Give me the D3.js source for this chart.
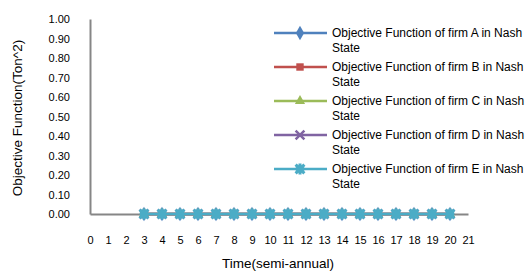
<!DOCTYPE html>
<html>
<head>
<meta charset="utf-8">
<script src="https://cdn.jsdelivr.net/npm/d3@7"></script>
<style>
  body { margin: 0; background: #fff; }
  text { font-family: "Liberation Sans", Arial, sans-serif; fill: #000; }
</style>
</head>
<body>
<svg id="chart"></svg>
<script>
let width = 530;
let height = 271;

// periods 3..20, all objective values are 0
const periods = [3, 4, 5, 6, 7, 8, 9, 10, 11, 12, 13, 14, 15, 16, 17, 18, 19, 20];
const firmA = [0, 0, 0, 0, 0, 0, 0, 0, 0, 0, 0, 0, 0, 0, 0, 0, 0, 0];
const firmB = [0, 0, 0, 0, 0, 0, 0, 0, 0, 0, 0, 0, 0, 0, 0, 0, 0, 0];
const firmC = [0, 0, 0, 0, 0, 0, 0, 0, 0, 0, 0, 0, 0, 0, 0, 0, 0, 0];
const firmD = [0, 0, 0, 0, 0, 0, 0, 0, 0, 0, 0, 0, 0, 0, 0, 0, 0, 0];
const firmE = [0, 0, 0, 0, 0, 0, 0, 0, 0, 0, 0, 0, 0, 0, 0, 0, 0, 0];
const seriesNames = ['Objective Function of firm A in Nash State',
                     'Objective Function of firm B in Nash State',
                     'Objective Function of firm C in Nash State',
                     'Objective Function of firm D in Nash State',
                     'Objective Function of firm E in Nash State'];
const xTicks = d3.range(0, 22);
const yTicks = [0, 0.1, 0.2, 0.3, 0.4, 0.5, 0.6, 0.7, 0.8, 0.9, 1.0];

const colors = ['#4F81BD', '#C0504D', '#9BBB59', '#8064A2', '#4BACC6'];
const shapes = ['diamond', 'square', 'triangle', 'x', 'star'];
const series = [firmA, firmB, firmC, firmD, firmE].map((vals, i) => ({
    name: seriesNames[i], color: colors[i], shape: shapes[i],
    points: periods.map((p, j) => ({x: p, y: vals[j]}))
}));

const x = d3.scaleLinear().domain([0, 21]).range([90, 468]);
const y = d3.scaleLinear().domain([0, 1]).range([214, 19]);

const svg = d3.select("#chart")
    .attr("width", width)
    .attr("height", height);

// axes (no tick marks, grey lines)
const yAxis = svg.append("g")
    .attr("transform", `translate(${x(0)},0)`)
    .call(d3.axisLeft(y).tickValues(yTicks).tickFormat(d3.format(".2f")).tickSize(0).tickPadding(20));
const xAxis = svg.append("g")
    .attr("transform", `translate(0,${y(0)})`)
    .call(d3.axisBottom(x).tickValues(xTicks).tickSize(0).tickPadding(22));
[yAxis, xAxis].forEach(a => {
    a.select(".domain").attr("stroke", "#868686").attr("stroke-width", 2);
    a.selectAll("text").style("font-size", "11px").style("font-family", '"Liberation Sans", Arial, sans-serif');
});

// axis titles
svg.append("text")
    .attr("x", 278).attr("y", 268)
    .attr("text-anchor", "middle")
    .style("font-size", "13.5px")
    .text("Time(semi-annual)");
svg.append("text")
    .attr("transform", `translate(22,118) rotate(-90)`)
    .attr("text-anchor", "middle")
    .style("font-size", "13.5px")
    .text("Objective Function(Ton^2)");

function marker(g, shape, color, size) {
    if (shape === 'x') {
        const s = size * 0.4;
        g.append("path").attr("d", `M${-s},${-s}L${s},${s}M${-s},${s}L${s},${-s}`)
            .attr("stroke", color).attr("stroke-width", 2.5).attr("fill", "none");
    } else if (shape === 'star') {
        const s = size * 0.4;
        g.append("path").attr("d", `M${-s},${-s}L${s},${s}M${-s},${s}L${s},${-s}M0,${-s - 1}L0,${s + 1}M${-s},0L${s},0`)
            .attr("stroke", color).attr("stroke-width", 3).attr("fill", "none");
    } else {
        const sym = {diamond: d3.symbolDiamond, square: d3.symbolSquare, triangle: d3.symbolTriangle}[shape];
        const area = {diamond: 60, square: 55, triangle: 45}[shape];
        g.append("path").attr("d", d3.symbol(sym, area)).attr("fill", color);
    }
}

const line = d3.line().x(d => x(d.x)).y(d => y(d.y));

series.forEach(s => {
    const g = svg.append("g");
    g.append("path")
        .datum(s.points)
        .attr("d", line)
        .attr("fill", "none")
        .attr("stroke", s.color)
        .attr("stroke-width", 2.5);
    s.points.forEach(p => {
        const m = g.append("g").attr("transform", `translate(${x(p.x)},${y(p.y)})`);
        marker(m, s.shape, s.color, 11);
    });
});

// legend
const legend = svg.append("g");
series.forEach((s, i) => {
    const ly = 33 + i * 34;
    const g = legend.append("g");
    g.append("line")
        .attr("x1", 274).attr("x2", 327)
        .attr("y1", ly).attr("y2", ly)
        .attr("stroke", s.color).attr("stroke-width", 2.5);
    const m = g.append("g").attr("transform", `translate(300,${ly})`);
    marker(m, s.shape, s.color, 11);
    const t = g.append("text")
        .attr("x", 332).attr("y", ly + 4)
        .style("font-size", "12px");
    const words = s.name.split(' ');
    t.append("tspan").attr("x", 332).text(words.slice(0, -1).join(' '));
    t.append("tspan").attr("x", 332).attr("dy", 15).text(words[words.length - 1]);
});
</script>
</body>
</html>
